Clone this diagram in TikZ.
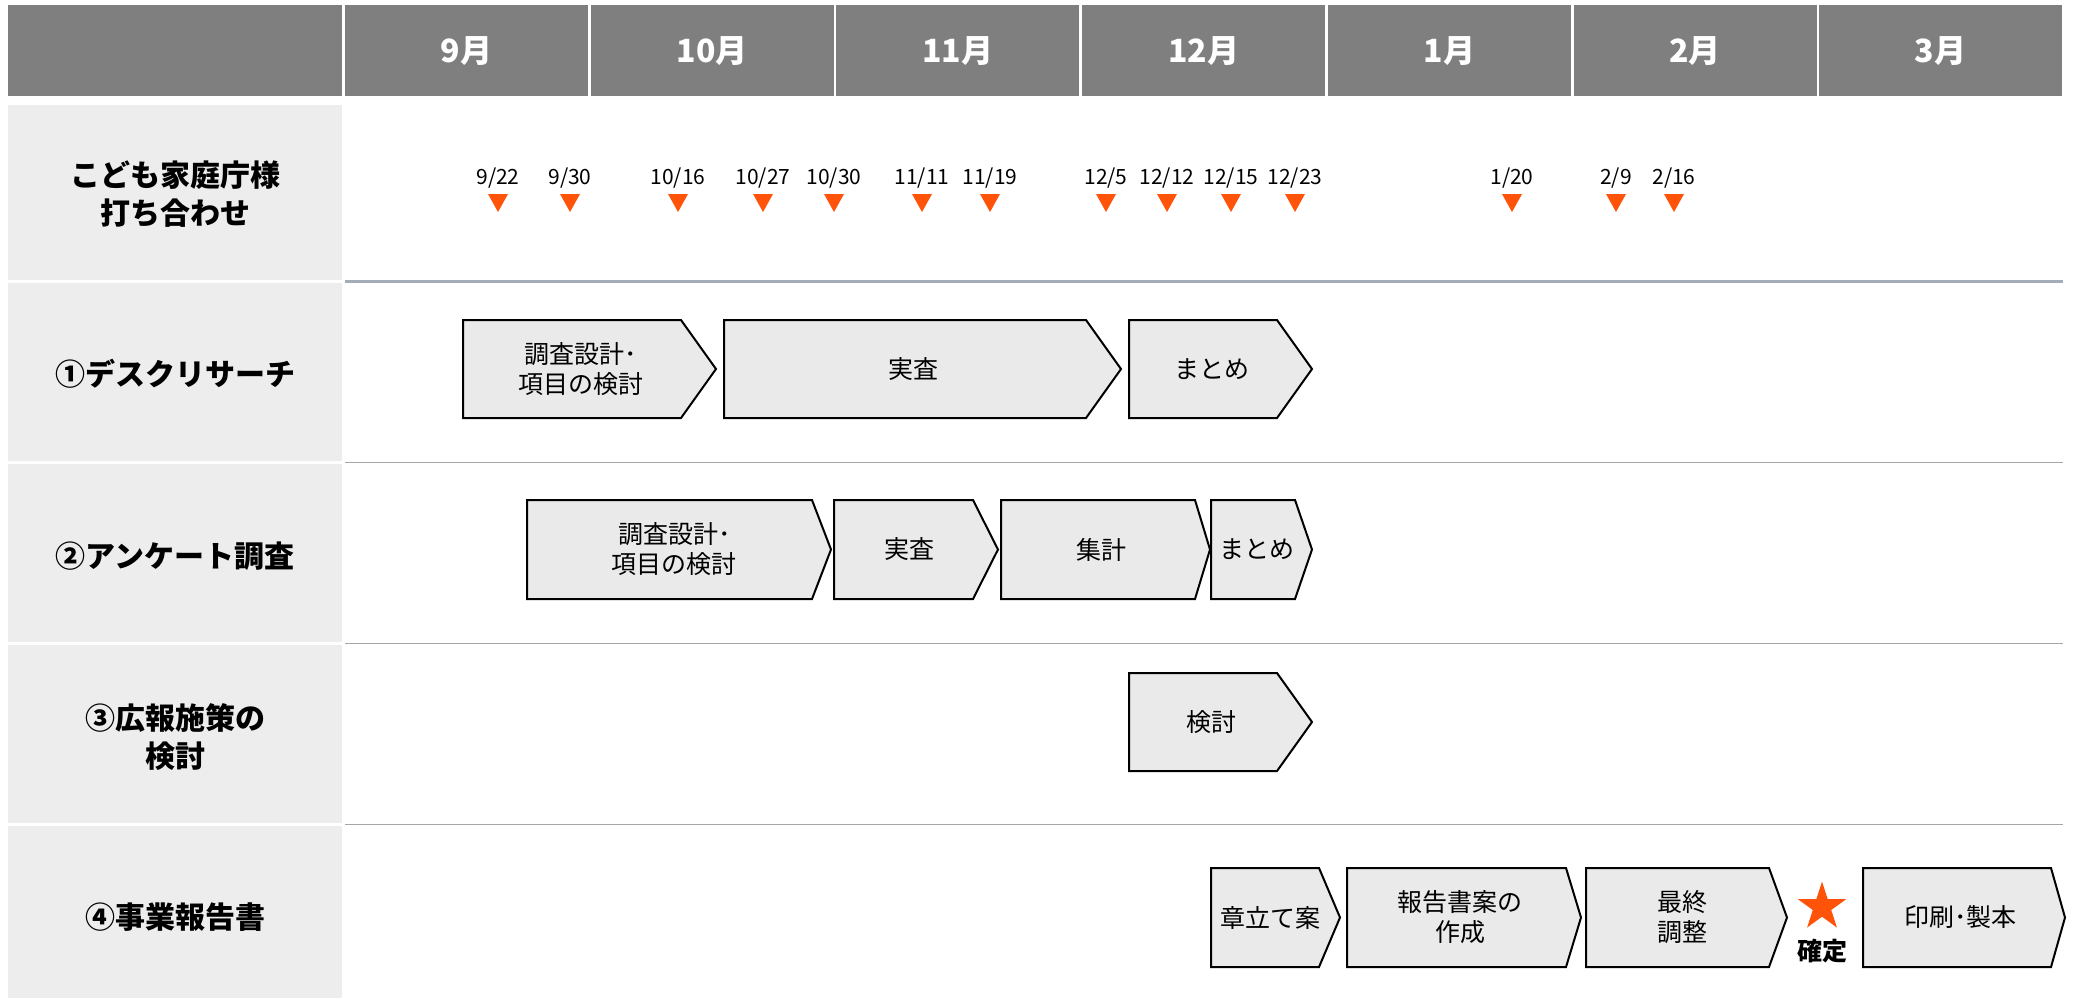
\documentclass[tikz,border=0pt]{standalone}
\usepackage{fontspec}
\setmainfont{Noto Sans CJK JP}
\usetikzlibrary{shapes.geometric}
\definecolor{hdr}{HTML}{7F7F7F}
\definecolor{lbl}{HTML}{EDEDED}
\definecolor{chevfill}{HTML}{EAEAEA}
\definecolor{acc}{HTML}{FF5309}
\definecolor{sepa}{HTML}{A4ACB9}
\definecolor{sepb}{HTML}{A6A6A6}
\tikzset{
  chev/.style={draw=black, line width=1pt, fill=chevfill, line join=miter},
  boxtext/.style={align=center, font=\fontsize{12.5}{15}\selectfont, inner sep=0pt},
  rowlabel/.style={align=center, font=\fontsize{15}{19}\selectfont\bfseries, inner sep=0pt},
  month/.style={text=white, font=\fontsize{16}{19}\selectfont\bfseries, inner sep=0pt},
  datelbl/.style={font=\fontsize{10.5}{12}\selectfont, inner sep=0pt},
  tri/.style={fill=acc},
  septhick/.style={draw=sepa, line width=1.5pt},
  septhin/.style={draw=sepb, line width=0.8pt}
}
\newcommand\chevbox[7]{%
  \draw[chev] (#2,#5) -- (#3,#5) -- (#4,{(#5+#6)/2}) -- (#3,#6) -- (#2,#6) -- cycle;
  \node[boxtext] (#1) at ({(#2+(#3+#4)/2)/2},{(#5+#6)/2}) {#7};
}
\begin{document}
\begin{tikzpicture}[x=0.5pt,y=-0.5pt]
\useasboundingbox (0,0) rectangle (2076,998);
\fill[white] (0,0) rectangle (2076,998);
% header
\fill[hdr] (8,5) rectangle (342,96);
\foreach \i/\m in {0/9,1/10,2/11,3/12,4/1,5/2,6/3} {
  \pgfmathsetmacro\xa{345+245.7*\i}
  \fill[hdr] (\xa,5) rectangle (\xa+243,96);
  \node[month] (mon\i) at (\xa+121.5,51) {\m 月};
}
% label cells
\fill[lbl] (8,105) rectangle (342,280);
\fill[lbl] (8,283) rectangle (342,461);
\fill[lbl] (8,464) rectangle (342,642);
\fill[lbl] (8,645) rectangle (342,823);
\fill[lbl] (8,826) rectangle (342,998);
% separators
\draw[septhick] (345,281.5) -- (2063,281.5);
\draw[septhin] (345,462.5) -- (2063,462.5);
\draw[septhin] (345,643.5) -- (2063,643.5);
\draw[septhin] (345,824.5) -- (2063,824.5);
% row labels
\node[rowlabel] (lab0) at (175,194) {こども家庭庁様\\打ち合わせ};
\node[rowlabel] (lab1) at (175,374) {①デスクリサーチ};
\node[rowlabel] (lab2) at (175,556) {②アンケート調査};
\node[rowlabel] (lab3) at (175,737) {③広報施策の\\検討};
\node[rowlabel] (lab4) at (175,917) {④事業報告書};
% meeting markers
\foreach \x/\m/\d [count=\i] in {498/9/22, 570/9/30, 678/10/16, 763/10/27, 834/10/30, 922/11/11, 990/11/19, 1106/12/5, 1167/12/12, 1231/12/15, 1295/12/23, 1512/1/20, 1616/2/9, 1674/2/16} {
  \fill[tri] (\x-10,194) -- (\x+10,194) -- (\x,212) -- cycle;
  \node[datelbl] (d\i) at (\x,178) {\m/\d};
}
% row 1
\chevbox{r1a}{463}{681}{716}{320}{418}{調査設計･\\項目の検討}
\chevbox{r1b}{724}{1086}{1121}{320}{418}{実査}
\chevbox{r1c}{1129}{1277}{1312}{320}{418}{まとめ}
% row 2
\chevbox{r2a}{527}{812}{831}{500}{599}{調査設計･\\項目の検討}
\chevbox{r2b}{834}{973}{998}{500}{599}{実査}
\chevbox{r2c}{1001}{1195}{1210}{500}{599}{集計}
\chevbox{r2d}{1211}{1295}{1312}{500}{599}{まとめ}
% row 3
\chevbox{r3a}{1129}{1277}{1312}{673}{771}{検討}
% row 4
\chevbox{r4a}{1211}{1319}{1340}{868}{967}{章立て案}
\chevbox{r4b}{1347}{1566}{1581}{868}{967}{報告書案の\\作成}
\chevbox{r4c}{1586}{1769}{1787}{868}{967}{最終\\調整}
\chevbox{r4d}{1863}{2051}{2065}{868}{967}{印刷･製本}
\node[star, star points=5, star point ratio=2.618, fill=acc, inner sep=0pt, minimum size=25.4pt] (star) at (1822,907) {};
\node[boxtext, font=\fontsize{12.5}{15}\selectfont\bfseries] (kakutei) at (1822,951) {確定};
\end{tikzpicture}
\end{document}
